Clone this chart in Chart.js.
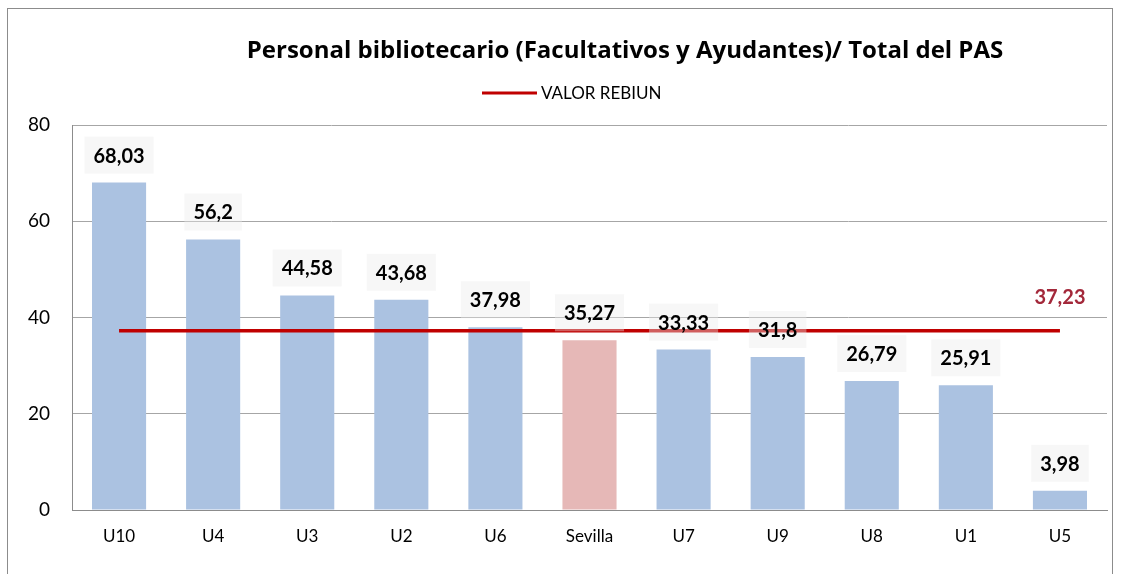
<!DOCTYPE html>
<html>
<head>
<meta charset="utf-8">
<script src="https://cdn.jsdelivr.net/npm/chart.js@4/dist/chart.umd.min.js"></script>
<style>
  html, body { margin: 0; padding: 0; background: #fff; }
  #wrap { width: 1142px; height: 574px; }
</style>
</head>
<body>
<div id="wrap"><canvas id="chart" width="1142" height="574"></canvas></div>
<script>
// DATA
const universidades = ['U10', 'U4', 'U3', 'U2', 'U6', 'Sevilla', 'U7', 'U9', 'U8', 'U1', 'U5'];
const ratios = [68.03, 56.2, 44.58, 43.68, 37.98, 35.27, 33.33, 31.8, 26.79, 25.91, 3.98];
const valorRebiun = [37.23, 37.23, 37.23, 37.23, 37.23, 37.23, 37.23, 37.23, 37.23, 37.23, 37.23];
const yTicks = [0, 20, 40, 60, 80];

const tituloGrafico = 'Personal bibliotecario (Facultativos y Ayudantes)/ Total del PAS';
const FONT = 'Lato, "Open Sans", sans-serif';

let blue = '#abc2e1';
let pink = '#e6b8b7';
let barColors = universidades.map(u => u === 'Sevilla' ? pink : blue);

function fmt(v) {
    return String(v).replace('.', ',');
}

// extra drawing: border, title, legend, value labels
const decor = {
    id: 'decor',
    beforeDraw(chart) {
        let ctx = chart.ctx;
        ctx.save();
        ctx.fillStyle = '#fff';
        ctx.fillRect(0, 0, chart.width, chart.height);
        ctx.strokeStyle = '#8c8c8c';
        ctx.lineWidth = 1;
        ctx.strokeRect(7.5, 8.5, 1105, 600);
        ctx.restore();
    },
    afterDatasetsDraw(chart) {
        let ctx = chart.ctx;
        ctx.save();

        // title
        ctx.fillStyle = '#000';
        ctx.font = 'bold 24px "Open Sans", sans-serif';
        ctx.textAlign = 'center';
        ctx.textBaseline = 'middle';
        ctx.fillText(tituloGrafico, 625, 51);

        // legend
        let lineDs = chart.data.datasets[1];
        ctx.strokeStyle = lineDs.borderColor;
        ctx.lineWidth = 3;
        ctx.beginPath();
        ctx.moveTo(482, 93);
        ctx.lineTo(537, 93);
        ctx.stroke();
        ctx.font = '17px ' + FONT;
        ctx.textAlign = 'left';
        ctx.fillStyle = '#000';
        ctx.fillText(lineDs.label, 541, 94);

        // bar value labels
        let bars = chart.getDatasetMeta(0).data;
        ctx.font = 'bold 20px ' + FONT;
        ctx.textAlign = 'center';
        bars.forEach((b, i) => {
            let txt = fmt(ratios[i]);
            let w = ctx.measureText(txt).width + 18;
            let h = 37;
            let cy = b.y - 9 - h / 2;
            ctx.fillStyle = 'rgba(235,235,235,0.4)';
            ctx.fillRect(b.x - w / 2, cy - h / 2, w, h);
            ctx.fillStyle = '#000';
            ctx.fillText(txt, b.x, cy + 1);
        });

        // REBIUN value at the end of the line
        let pts = chart.getDatasetMeta(1).data;
        let last = pts[pts.length - 1];
        ctx.fillStyle = '#a3283a';
        ctx.font = 'bold 20px ' + FONT;
        ctx.fillText(fmt(valorRebiun[valorRebiun.length - 1]), last.x, last.y - 33);

        ctx.restore();
    }
};

let chart = new Chart(document.getElementById('chart'), {
    data: {
        labels: universidades,
        datasets: [{
            type: 'bar',
            label: 'Ratio',
            data: ratios,
            backgroundColor: barColors,
            categoryPercentage: 1,
            barPercentage: 0.575,
            order: 1
        }, {
            type: 'line',
            label: 'VALOR REBIUN',
            data: valorRebiun,
            borderColor: '#c00000',
            borderWidth: 3.5,
            pointRadius: 0,
            fill: false,
            order: 0
        }]
    },
    options: {
        responsive: false,
        animation: false,
        layout: { padding: { top: 125, left: 0, right: 35, bottom: 20 } },
        plugins: {
            legend: { display: false },
            title: { display: false },
            tooltip: { enabled: false }
        },
        scales: {
            x: {
                offset: true,
                grid: { display: false, drawTicks: false },
                border: { color: '#8c8c8c', width: 1 },
                ticks: { color: '#000', font: { family: FONT, size: 17 }, padding: 16 },
                afterFit(s) { s.height = 44; }
            },
            y: {
                min: 0,
                max: 80,
                afterBuildTicks(s) { s.ticks = yTicks.map(v => ({ value: v })); },
                grid: { color: '#a6a6a6', drawTicks: false },
                border: { color: '#8c8c8c', width: 1 },
                ticks: { color: '#000', font: { family: FONT, size: 19 }, padding: 22 },
                afterFit(s) { s.width = 72; }
            }
        }
    },
    plugins: [decor]
});
</script>
</body>
</html>
